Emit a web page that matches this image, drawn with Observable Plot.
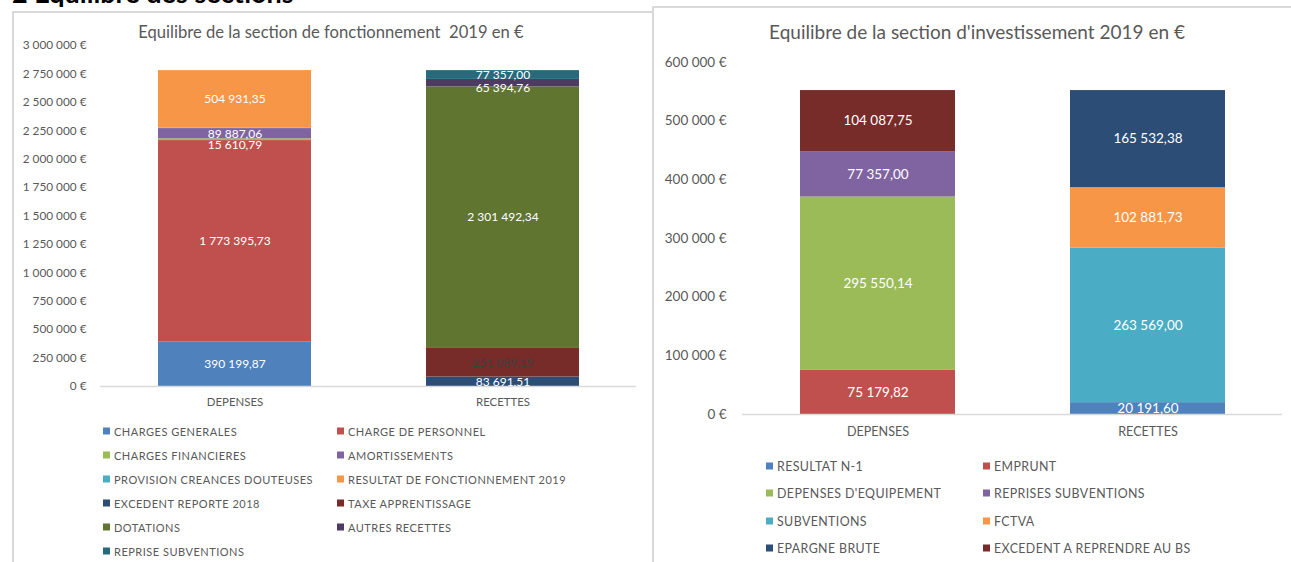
<!DOCTYPE html>
<html>
<head>
<meta charset="utf-8">
<script src="https://cdn.jsdelivr.net/npm/d3@7"></script>
<script src="https://cdn.jsdelivr.net/npm/@observablehq/plot@0.6"></script>
<style>
  html, body { margin: 0; padding: 0; background: #fff; }
  body { width: 1291px; height: 562px; overflow: hidden; position: relative; font-family: Lato, "Open Sans", sans-serif; }
  .abs { position: absolute; }
  .heading { left: 12px; top: -21px; font-size: 27px; font-weight: bold; color: #000; line-height: 27px; white-space: nowrap; }
  .panel { border-left: 2px solid #d9d9d9; border-top: 2px solid #d9d9d9; }
  .title { color: #595959; white-space: pre; transform: translate(-50%, -50%); }
  .leg { color: #595959; white-space: nowrap; display: flex; align-items: center; transform: translateY(-50%); }
  .sw { display: inline-block; width: 7px; height: 7px; margin-right: 4px; }
</style>
</head>
<body>
<div class="abs heading">2 Equilibre des sections</div>
<div class="abs panel" style="left:12px; top:11px; width:640px; height:560px;"></div>
<div class="abs panel" style="left:652px; top:6px; width:650px; height:560px; background:#fff;"></div>
<div id="left" class="abs" style="left:0; top:0;"></div>
<div id="right" class="abs" style="left:650px; top:0;"></div>
<div id="overlay"></div>
<script>
// ---- Data: section de fonctionnement ----
const fonctTitle = "Equilibre de la section de fonctionnement  2019 en €";
const fonctCategories = ["DEPENSES", "RECETTES"];
const fonctSeries = [
  "CHARGES GENERALES", "CHARGE DE PERSONNEL", "CHARGES FINANCIERES", "AMORTISSEMENTS",
  "PROVISION CREANCES DOUTEUSES", "RESULTAT DE FONCTIONNEMENT 2019",
  "EXCEDENT REPORTE 2018", "TAXE APPRENTISSAGE", "DOTATIONS", "AUTRES RECETTES", "REPRISE SUBVENTIONS"
];
const fonctCategoryOf = ["DEPENSES", "DEPENSES", "DEPENSES", "DEPENSES", "DEPENSES", "DEPENSES",
  "RECETTES", "RECETTES", "RECETTES", "RECETTES", "RECETTES"];
const fonctValues = [390199.87, 1773395.73, 15610.79, 89887.06, 5000.00, 504931.35,
  83691.51, 251089.19, 2301492.34, 65394.76, 77357.00];
const fonctColors = ["#4f81bd", "#c0504d", "#9bbb59", "#8064a2", "#4bacc6", "#f79646",
  "#2c4d75", "#772c2a", "#5f7530", "#4d3b62", "#276a7c"];
const fonctTicks = [0, 250000, 500000, 750000, 1000000, 1250000, 1500000, 1750000, 2000000, 2250000, 2500000, 2750000, 3000000];

// ---- Data: section d'investissement ----
const investTitle = "Equilibre de la section d'investissement 2019 en €";
const investCategories = ["DEPENSES", "RECETTES"];
const investSeries = [
  "RESULTAT N-1", "EMPRUNT", "DEPENSES D'EQUIPEMENT", "REPRISES SUBVENTIONS",
  "SUBVENTIONS", "FCTVA", "EPARGNE BRUTE", "EXCEDENT A REPRENDRE AU BS"
];
const investCategoryOf = ["RECETTES", "DEPENSES", "DEPENSES", "DEPENSES", "RECETTES", "RECETTES", "RECETTES", "DEPENSES"];
const investValues = [20191.60, 75179.82, 295550.14, 77357.00, 263569.00, 102881.73, 165532.38, 104087.75];
const investColors = ["#4f81bd", "#c0504d", "#9bbb59", "#8064a2", "#4bacc6", "#f79646", "#2c4d75", "#772c2a"];
const investTicks = [0, 100000, 200000, 300000, 400000, 500000, 600000];

const fr = d3.formatLocale({decimal: ",", thousands: "\u00a0", grouping: [3], currency: ["", " €"]});
const fmtVal = fr.format(",.2f");
const fmtTick = d => fr.format(",")(d) + "\u00a0€";

function makeRows(series, cats, values) {
  return series.map((s, i) => ({series: s, cat: cats[i], value: values[i]}));
}

function chart(cfg) {
  const rows = makeRows(cfg.series, cfg.cats, cfg.values);
  const nudged = cfg.nudged || new Set();
  const labelOpts = (filter, dy) => Plot.stackY({
    x: "cat", y: "value", z: "series",
    text: d => (d.value >= 10000 && filter(d)) ? fmtVal(d.value) : "",
    fill: d => d.series === cfg.darkLabel ? "#3f3f3f" : "white",
    fontSize: cfg.lfs, dy
  });
  return Plot.plot({
    width: cfg.width, height: cfg.height,
    marginLeft: cfg.ml, marginRight: cfg.mr, marginTop: cfg.mt, marginBottom: cfg.mb,
    style: {fontFamily: "Lato, 'Open Sans', sans-serif", color: "#595959", background: "transparent"},
    x: {domain: cfg.categories, paddingInner: cfg.pin, paddingOuter: cfg.pin / 2, label: null},
    y: {domain: [0, cfg.ticks[cfg.ticks.length - 1]], label: null},
    color: {domain: cfg.series, range: cfg.colors},
    marks: [
      Plot.axisY({ticks: cfg.ticks, tickFormat: fmtTick, tickSize: 0, tickPadding: cfg.ypad, fontSize: cfg.yfs, label: null, fill: "#595959"}),
      Plot.axisX({tickSize: 0, tickPadding: cfg.xpad, fontSize: cfg.xfs, label: null, fill: "#595959"}),
      Plot.barY(rows, {x: "cat", y: "value", fill: "series"}),
      Plot.ruleY([0], {stroke: "#d9d9d9", strokeWidth: 1.5}),
      Plot.text(rows, labelOpts(d => !nudged.has(d.series), 0)),
      Plot.text(rows, labelOpts(d => nudged.has(d.series), 5))
    ]
  });
}

document.getElementById("left").append(chart({
  series: fonctSeries, cats: fonctCategoryOf, values: fonctValues, colors: fonctColors,
  categories: fonctCategories, ticks: fonctTicks,
  width: 650, height: 420, ml: 100, mr: 14, mt: 45, mb: 34, pin: 0.43,
  xpad: 11, ypad: 14, xfs: 11.4, yfs: 11.8, lfs: 12, darkLabel: "TAXE APPRENTISSAGE",
  nudged: new Set(["CHARGES FINANCIERES", "AUTRES RECETTES"])
}));

document.getElementById("right").append(chart({
  series: investSeries, cats: investCategoryOf, values: investValues, colors: investColors,
  categories: investCategories, ticks: investTicks,
  width: 641, height: 450, ml: 92, mr: 9, mt: 62, mb: 36, pin: 0.426,
  xpad: 13, ypad: 16, xfs: 12.6, yfs: 13.5, lfs: 13.5, darkLabel: null
}));

// titles and legends (HTML, built from the same arrays)
const overlay = document.getElementById("overlay");
function addTitle(text, cx, cy, fs) {
  const d = document.createElement("div");
  d.className = "abs title";
  d.style.left = cx + "px"; d.style.top = cy + "px"; d.style.fontSize = fs + "px";
  d.textContent = text;
  overlay.append(d);
}
function addLegend(series, colors, x0, colW, y0, rowH, fs, ls) {
  series.forEach((s, i) => {
    const d = document.createElement("div");
    d.className = "abs leg";
    d.style.left = (x0 + (i % 2) * colW) + "px";
    d.style.top = (y0 + Math.floor(i / 2) * rowH) + "px";
    d.style.fontSize = fs + "px";
    d.style.letterSpacing = ls + "px";
    const sw = document.createElement("span");
    sw.className = "sw"; sw.style.background = colors[i];
    d.append(sw, document.createTextNode(s));
    overlay.append(d);
  });
}
addTitle(fonctTitle, 331, 32, 16.6);
addTitle(investTitle, 977, 31, 19);
addLegend(fonctSeries, fonctColors, 103, 234, 431, 24, 11, 0.5);
addLegend(investSeries, investColors, 766, 217, 466, 27.3, 12.4, 0.4);
</script>
</body>
</html>
